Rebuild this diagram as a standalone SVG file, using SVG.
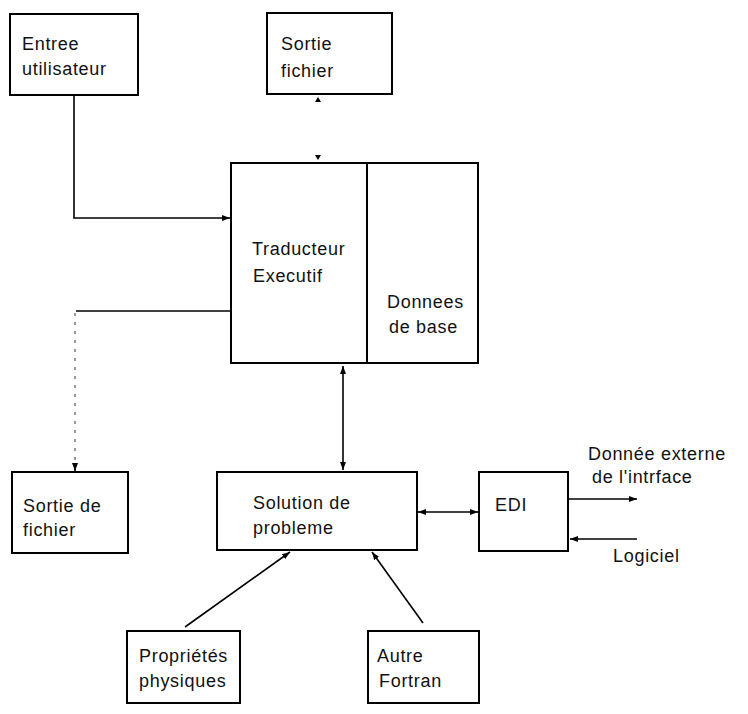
<svg xmlns="http://www.w3.org/2000/svg" width="748" height="714" viewBox="0 0 748 714">
<defs>
<style>
.box{fill:#fff;stroke:#000;stroke-width:2}
.t{font-family:"Liberation Sans",Arial,sans-serif;font-size:18px;letter-spacing:0.7px;fill:#111}
.c{fill:none;stroke:#000;stroke-width:1.6}
.d{fill:none;stroke:#555;stroke-width:1.2;stroke-dasharray:3 6}
</style>
<marker id="ah" viewBox="0 0 8 6" refX="8" refY="3" markerWidth="8" markerHeight="6" markerUnits="userSpaceOnUse" orient="auto-start-reverse">
<path d="M0,0 L8,3 L0,6 z" fill="#000"/>
</marker>
</defs>
<rect width="748" height="714" fill="#fff"/>
<g id="connectors">
<path class="c" d="M74,95 V218 H230" marker-end="url(#ah)"/>
<path class="c" d="M231,311 H76"/>
<path class="d" d="M75,313 V465"/>
<path class="c" d="M75,465 V471" marker-end="url(#ah)"/>
<polygon points="315,102 318,97 321,102" fill="#000"/>
<polygon points="315,155 318,160 321,155" fill="#000"/>
<path class="c" d="M343,366 V470" marker-start="url(#ah)" marker-end="url(#ah)"/>
<path class="c" d="M418,512 H478" marker-start="url(#ah)" marker-end="url(#ah)"/>
<path class="c" d="M569,499 H637" marker-end="url(#ah)"/>
<path class="c" d="M637,539 H570" marker-end="url(#ah)"/>
<path class="c" d="M185,627 L290,552" marker-end="url(#ah)"/>
<path class="c" d="M423,623 L372,552" marker-end="url(#ah)"/>
</g>
<g id="entree">
<rect class="box" x="10" y="14" width="128" height="81"/>
<text class="t" x="22" y="50">Entree</text>
<text class="t" x="22" y="75">utilisateur</text>
</g>
<g id="sortie-fichier">
<rect class="box" x="267" y="13" width="125" height="81"/>
<text class="t" x="281" y="50">Sortie</text>
<text class="t" x="281" y="77">fichier</text>
</g>
<g id="traducteur">
<rect class="box" x="231" y="163" width="247" height="200"/>
<line x1="367" y1="163" x2="367" y2="363" stroke="#000" stroke-width="2"/>
<text class="t" x="252" y="255">Traducteur</text>
<text class="t" x="253" y="282">Executif</text>
<text class="t" x="387" y="308">Donnees</text>
<text class="t" x="389" y="333">de base</text>
</g>
<g id="sortie-de-fichier">
<rect class="box" x="12" y="472" width="116" height="81"/>
<text class="t" x="23" y="512">Sortie de</text>
<text class="t" x="23" y="536">fichier</text>
</g>
<g id="solution">
<rect class="box" x="217" y="472" width="200" height="78"/>
<text class="t" x="253" y="509">Solution de</text>
<text class="t" x="253" y="534">probleme</text>
</g>
<g id="edi">
<rect class="box" x="479" y="472" width="89" height="79"/>
<text class="t" x="495" y="511">EDI</text>
</g>
<g id="labels">
<text class="t" x="588" y="460">Donnée externe</text>
<text class="t" x="592" y="483">de l'intrface</text>
<text class="t" x="613" y="562">Logiciel</text>
</g>
<g id="proprietes">
<rect class="box" x="127" y="631" width="113" height="72"/>
<text class="t" x="139" y="662">Propriétés</text>
<text class="t" x="139" y="687">physiques</text>
</g>
<g id="autre">
<rect class="box" x="368" y="631" width="111" height="72"/>
<text class="t" x="377" y="662">Autre</text>
<text class="t" x="379" y="687">Fortran</text>
</g>
</svg>
